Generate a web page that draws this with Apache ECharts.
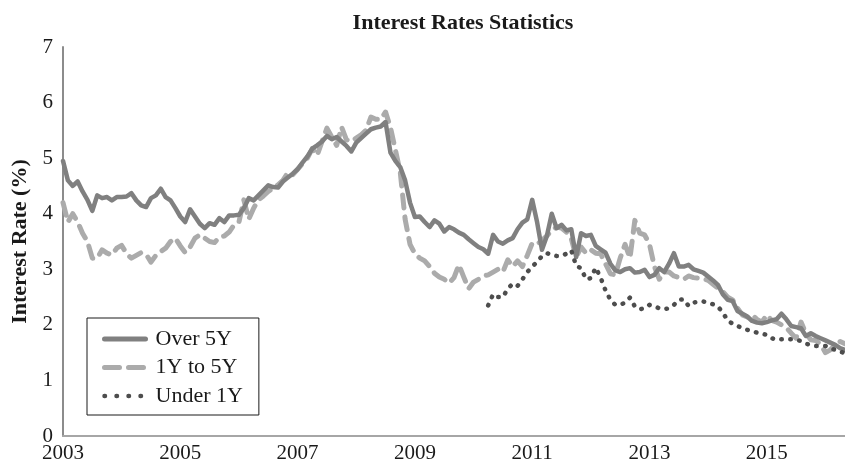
<!DOCTYPE html>
<html>
<head>
<meta charset="utf-8">
<script src="https://cdn.jsdelivr.net/npm/echarts@6/dist/echarts.min.js"></script>
<style>
  html, body { margin: 0; padding: 0; background: #fff; }
  #chart { width: 845px; height: 466px; }
</style>
</head>
<body>
<div id="chart"></div>
<script>
// monthly categories Jan 2003 .. May 2016
var months = [];
for (var y = 2003; y <= 2016; y++) {
  for (var m = 1; m <= 12; m++) {
    if (y === 2016 && m > 5) break;
    months.push(y + '-' + (m < 10 ? '0' : '') + m);
  }
}

var yTicks = [0, 1, 2, 3, 4, 5, 6, 7];

// Over 5Y, from 2003-01
var over5Y = [
  4.95, 4.6, 4.5, 4.58, 4.4, 4.25, 4.05, 4.33, 4.28, 4.3, 4.24, 4.3,
  4.3, 4.31, 4.37, 4.24, 4.15, 4.12, 4.28, 4.33, 4.45, 4.3, 4.24, 4.1,
  3.95, 3.85, 4.08, 3.95, 3.82, 3.74, 3.83, 3.8, 3.92, 3.85, 3.97, 3.97,
  3.98, 4.1, 4.28, 4.24, 4.33, 4.42, 4.51, 4.48, 4.47, 4.58, 4.65, 4.72,
  4.8, 4.92, 5.03, 5.17, 5.23, 5.3, 5.4, 5.34, 5.38, 5.3, 5.22, 5.12,
  5.28, 5.36, 5.44, 5.52, 5.55, 5.57, 5.65, 5.1, 4.95, 4.84, 4.6, 4.2,
  3.94, 3.95, 3.85, 3.76, 3.88, 3.82, 3.68, 3.76, 3.72, 3.66, 3.62, 3.54,
  3.47, 3.4, 3.36, 3.28, 3.62, 3.5, 3.46, 3.52, 3.56, 3.72, 3.84, 3.9,
  4.25, 3.85, 3.35, 3.6, 4.0, 3.74, 3.8, 3.7, 3.72, 3.22, 3.65, 3.6,
  3.62, 3.42, 3.36, 3.3, 3.1, 2.98, 2.95, 3.0, 3.02, 2.94, 2.95, 2.99,
  2.86, 2.9, 3.02, 2.95, 3.1, 3.29, 3.05, 3.05, 3.08, 3.0, 2.97, 2.94,
  2.87, 2.8, 2.72, 2.55, 2.45, 2.43, 2.25, 2.2, 2.15, 2.07, 2.04, 2.03,
  2.05, 2.08, 2.1, 2.2, 2.1, 1.98, 1.96, 1.94, 1.8, 1.85, 1.8, 1.76,
  1.72, 1.68, 1.64, 1.58, 1.55
];

// 1Y to 5Y, from 2003-01
var oneTo5Y = [
  4.2, 3.85, 4.0, 3.85, 3.65, 3.5, 3.2, 3.2, 3.35, 3.29, 3.26, 3.38,
  3.43, 3.28, 3.2, 3.25, 3.3, 3.27, 3.13, 3.25, 3.32, 3.38, 3.5, 3.56,
  3.42, 3.3, 3.4, 3.56, 3.62, 3.56, 3.5, 3.48, 3.58, 3.6, 3.67, 3.8,
  3.85, 4.25, 3.9, 4.1, 4.25, 4.32, 4.4, 4.46, 4.52, 4.6, 4.74, 4.7,
  4.8, 4.9, 5.0, 5.17, 5.05, 5.3, 5.54, 5.38, 5.23, 5.56, 5.33, 5.3,
  5.36, 5.42, 5.5, 5.74, 5.7, 5.7, 5.83, 5.55, 5.15, 4.75, 3.9, 3.45,
  3.28, 3.2, 3.15, 3.05, 2.93, 2.86, 2.82, 2.75, 2.85, 3.08, 2.86, 2.65,
  2.77, 2.82, 2.88, 2.9, 2.95, 3.0, 2.95, 3.17, 3.05, 3.15, 3.05, 3.25,
  3.47, 3.45, 3.52, 3.6, 3.7, 3.76, 3.74, 3.67, 3.55, 3.22, 3.4, 3.29,
  3.35, 3.29, 3.28, 3.1, 2.92, 2.9, 3.2, 3.45, 3.2, 3.88, 3.65, 3.62,
  3.45, 3.05, 2.82, 2.95, 2.95, 2.88, 2.85, 2.82, 2.88, 2.85, 2.84, 2.83,
  2.8, 2.73, 2.66, 2.6, 2.5, 2.45, 2.3, 2.18, 2.14, 2.18, 2.1, 2.05,
  2.18, 2.08, 2.05, 2.0, 1.95, 1.85, 1.76, 2.05, 1.85, 1.73, 1.72, 1.65,
  1.5, 1.55, 1.64, 1.7, 1.66
];

// Under 1Y, from 2010-04
var under1YStart = '2010-04';
var under1Y = [
  2.35, 2.55, 2.5, 2.5, 2.65, 2.74, 2.7, 2.82, 2.95,
  3.05, 3.13, 3.24, 3.29, 3.26, 3.24, 3.24, 3.28, 3.34, 3.06, 3.02, 2.82,
  2.84, 3.03, 2.85, 2.62, 2.45, 2.36, 2.36, 2.4, 2.49, 2.33, 2.28, 2.3,
  2.36, 2.33, 2.3, 2.28, 2.3, 2.36, 2.45, 2.46, 2.34, 2.4, 2.42, 2.42,
  2.4, 2.37, 2.33, 2.22, 2.08, 2.02, 1.98, 1.94, 1.91, 1.89, 1.86, 1.84,
  1.82, 1.76, 1.73, 1.74, 1.74, 1.74, 1.73, 1.71, 1.66, 1.64, 1.62, 1.62,
  1.62, 1.58, 1.55, 1.52, 1.49
];

var startIdx = months.indexOf(under1YStart);
var under1YData = under1Y.map(function (v, k) { return [startIdx + k, v]; });

var serif = '"Liberation Serif", "Times New Roman", serif';

var chart = echarts.init(document.getElementById('chart'));
chart.setOption({
  backgroundColor: '#fff',
  animation: false,
  textStyle: { fontFamily: serif, color: '#1a1a1a' },
  title: {
    text: 'Interest Rates Statistics',
    left: 458,
    top: 7,
    textAlign: 'center',
    textStyle: { fontFamily: serif, fontSize: 22, fontWeight: 'bold', color: '#1a1a1a' }
  },
  grid: { left: 63, right: 0, top: 47, bottom: 30, containLabel: false },
  legend: {
    orient: 'vertical',
    left: 87,
    top: 318,
    padding: [10, 16, 8, 15],
    itemGap: 6.5,
    itemWidth: 41,
    itemHeight: 14,
    borderColor: '#1a1a1a',
    borderWidth: 1,
    borderRadius: 0,
    backgroundColor: '#fff',
    itemStyle: { opacity: 0 },
    textStyle: { fontFamily: serif, fontSize: 22, color: '#1a1a1a', padding: [0, 0, 0, 5] },
    data: [
      { name: 'Over 5Y', lineStyle: { width: 5 } },
      { name: '1Y to 5Y', lineStyle: { width: 5, type: [15, 9] } },
      { name: 'Under 1Y', lineStyle: { width: 4.5, type: [0.5, 11.5] } }
    ]
  },
  xAxis: {
    type: 'category',
    data: months,
    boundaryGap: false,
    axisLine: { lineStyle: { color: '#a6a6a6', width: 2 } },
    axisTick: { show: false },
    axisLabel: {
      interval: 23,
      margin: 7,
      fontFamily: serif,
      fontSize: 21,
      color: '#1a1a1a',
      formatter: function (v) { return v.slice(0, 4); }
    },
    splitLine: { show: false }
  },
  yAxis: {
    type: 'value',
    min: yTicks[0],
    max: yTicks[yTicks.length - 1],
    interval: 1,
    name: 'Interest Rate (%)',
    nameLocation: 'middle',
    nameGap: 31,
    nameTextStyle: { fontFamily: serif, fontSize: 22, fontWeight: 'bold', color: '#1a1a1a' },
    axisLine: { show: true, lineStyle: { color: '#8c8c8c', width: 2 } },
    axisTick: { show: false },
    axisLabel: { margin: 10, fontFamily: serif, fontSize: 21, color: '#1a1a1a' },
    splitLine: { show: false }
  },
  series: [
    {
      name: 'Over 5Y',
      type: 'line',
      data: over5Y,
      symbol: 'none',
      z: 3,
      itemStyle: { color: '#808080' },
      lineStyle: { color: '#808080', width: 4.5, join: 'round', cap: 'round' }
    },
    {
      name: '1Y to 5Y',
      type: 'line',
      data: oneTo5Y,
      symbol: 'none',
      z: 2,
      itemStyle: { color: '#ababab' },
      lineStyle: { color: '#ababab', width: 5, type: [13, 9], cap: 'round', join: 'round' }
    },
    {
      name: 'Under 1Y',
      type: 'line',
      data: under1YData,
      symbol: 'none',
      z: 4,
      itemStyle: { color: '#4d4d4d' },
      lineStyle: { color: '#4d4d4d', width: 4.5, type: [0.5, 8.5], cap: 'round', join: 'round' }
    }
  ]
});
</script>
</body>
</html>
